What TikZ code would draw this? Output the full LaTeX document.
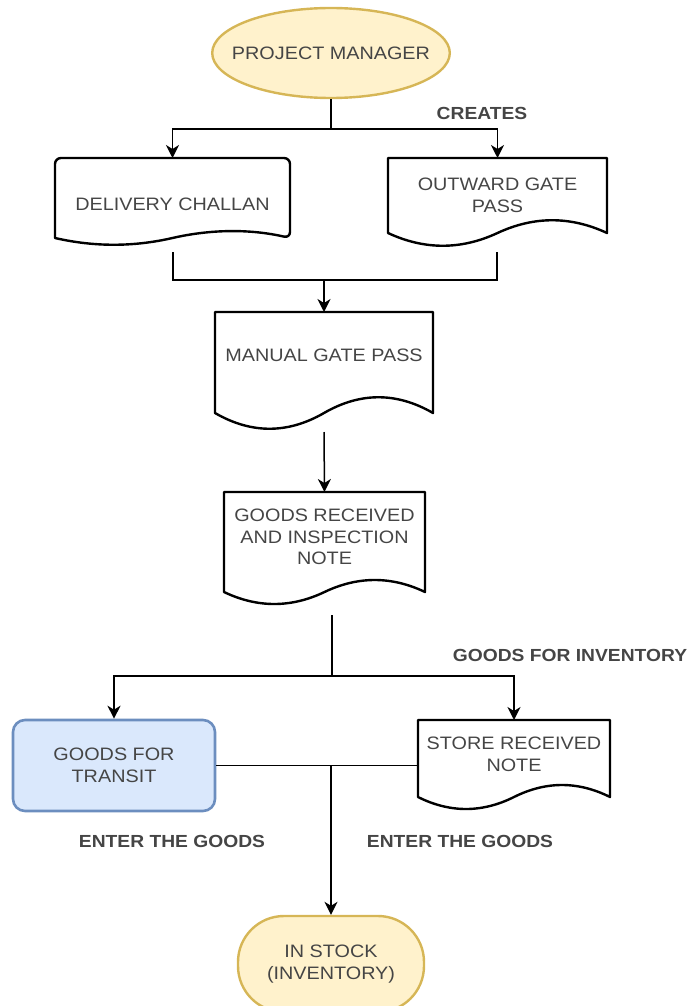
\documentclass[tikz,border=0pt]{standalone}
\usepackage{fontspec}
\setmainfont[FakeStretch=1.1]{Liberation Sans}
\usetikzlibrary{shapes.geometric,arrows.meta,calc}

\definecolor{txt}{HTML}{454545}
\definecolor{termfill}{HTML}{FFF2CC}
\definecolor{termline}{HTML}{D6B656}
\definecolor{procfill}{HTML}{DAE8FC}
\definecolor{procline}{HTML}{6C8EBF}

% document outline with a wavy bottom edge: #1 node, #2 wave control offset, #3 top corner radius
\newcommand{\docframe}[3]{%
  \draw[docline, rounded corners=#3] (#1.south west) -- (#1.north west) -- (#1.north east) -- (#1.south east)
    [sharp corners]
    .. controls ($(#1.south east)!1/3!(#1.south)+(0,-#2)$) and ($(#1.south)!1/3!(#1.south east)+(0,-#2)$) .. (#1.south)
    .. controls ($(#1.south)!1/3!(#1.south west)+(0,#2)$) and ($(#1.south west)!1/3!(#1.south)+(0,#2)$) .. (#1.south west)
    -- cycle;}

\tikzset{
  every node/.style={font=\fontsize{18}{21.5}\selectfont, text=txt},
  docbox/.style={rectangle, draw=none, align=center, inner sep=0pt, outer sep=0pt, anchor=north},
  docline/.style={draw=black, line width=2.4pt, line join=round},
  conn/.style={draw=black, line width=1.5pt},
  arr/.style={conn, -{Stealth[length=13pt, width=13pt, inset=4pt]}},
  terminal/.style={draw=termline, fill=termfill, line width=2.4pt, align=center},
  process/.style={rectangle, rounded corners=12pt, draw=procline, fill=procfill, line width=2.6pt, align=center},
  flowlabel/.style={font=\bfseries\fontsize{17.5}{21.5}\selectfont, text=txt}
}

\begin{document}
\begin{tikzpicture}[x=1pt, y=-1pt]
\useasboundingbox (0,0) rectangle (693,1006);

% start terminal
\node[terminal, ellipse, inner xsep=-15pt, inner ysep=0pt, minimum width=231pt, minimum height=90pt] (pm) at (331,53) {PROJECT MANAGER};

% first row of documents
\node[docbox, minimum width=235pt, minimum height=80pt, text height=26pt] (dc) at (172.5,158) {DELIVERY CHALLAN};
\docframe{dc}{9}{6pt}
\node[docbox, minimum width=219pt, minimum height=75pt] (og) at (497.5,158) {OUTWARD GATE\\PASS};
\docframe{og}{17}{0pt}

\node[docbox, minimum width=218pt, minimum height=101pt, text depth=15pt] (mgp) at (324,312) {MANUAL GATE PASS};
\docframe{mgp}{21}{0pt}

\node[docbox, minimum width=201pt, minimum height=100pt, text depth=10pt] (grn) at (324.5,492) {GOODS RECEIVED\\AND INSPECTION\\NOTE};
\docframe{grn}{16}{0pt}

\node[process, minimum width=202pt, minimum height=91pt] (gt) at (114,765.5) {GOODS FOR\\TRANSIT};
\node[docbox, minimum width=192pt, minimum height=77pt, text depth=9pt] (srn) at (514,720) {STORE RECEIVED\\NOTE};
\docframe{srn}{16}{0pt}

% end terminal
\node[terminal, rectangle, rounded corners=46pt, minimum width=186pt, minimum height=96pt] (stock) at (331,964) {IN STOCK\\(INVENTORY)};

% connector labels
\node[flowlabel] (lcreate) at (482,113) {CREATES};
\node[flowlabel] (linv) at (570,655) {GOODS FOR INVENTORY};
\node[flowlabel] (lenter1) at (172,841) {ENTER THE GOODS};
\node[flowlabel] (lenter2) at (460,841) {ENTER THE GOODS};

% junction points
\coordinate (s1) at (331,129);
\coordinate (dcb) at (173,252);
\coordinate (ogb) at (497,252);
\coordinate (m1) at (324,280);
\coordinate (mgpb) at (324,432);
\coordinate (grnb) at (332,615);
\coordinate (s2) at (332,676);
\coordinate (m2) at (331,765.5);

% connectors
\draw[conn] (pm.south) -- (s1);
\draw[arr] (s1) -| (dc.north);
\draw[arr] (s1) -| (og.north);
\draw[conn] (dcb) |- (m1) -| (ogb);
\draw[arr] (m1) -- (mgp.north);
\draw[arr] (mgpb) -- (grn.north);
\draw[conn] (grnb) -- (s2);
\draw[arr] (s2) -| (gt.north);
\draw[arr] (s2) -| (srn.north);
\draw[conn] (gt.east) -- (gt.east -| srn.west);
\draw[arr] (m2) -- (stock.north);
\end{tikzpicture}
\end{document}
